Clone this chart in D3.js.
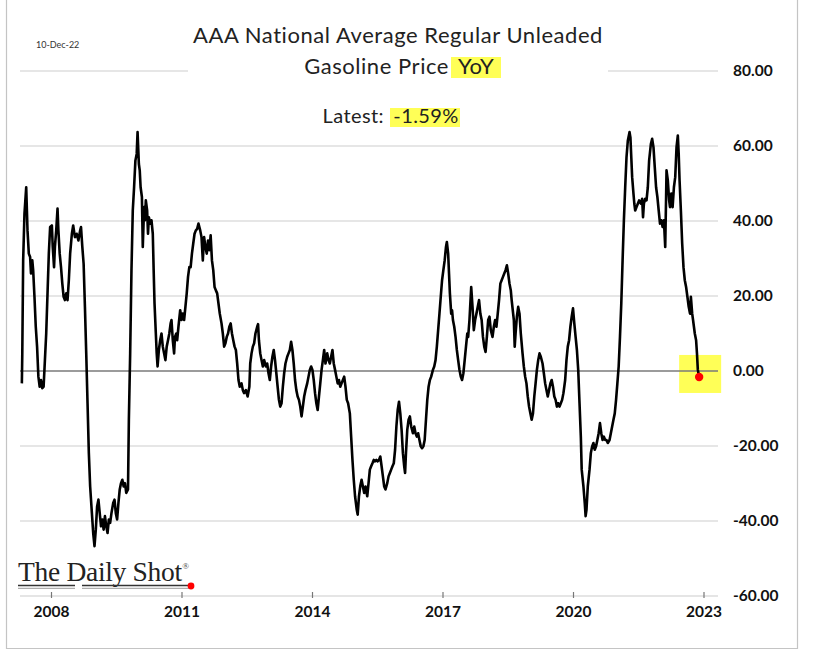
<!DOCTYPE html>
<html><head><meta charset="utf-8">
<script src="https://cdn.jsdelivr.net/npm/d3@7"></script>
<style>body{margin:0;background:#fff}svg{display:block}</style>
</head><body><svg id="c" width="817" height="671"></svg>
<script>
// ---- data (decimal year, YoY %) ----
const years = [
2007.33,2007.34,2007.36,2007.39,2007.43,2007.46,2007.49,2007.52,2007.54,2007.57,2007.59,2007.62,2007.65,2007.68,2007.71,2007.74,2007.77,2007.80,2007.83,2007.86,2007.89,2007.92,2007.95,2007.98,
2008.02,2008.04,2008.07,2008.09,2008.12,2008.15,2008.17,2008.20,2008.23,2008.26,2008.29,2008.32,2008.35,2008.38,2008.41,2008.44,2008.48,2008.51,2008.55,2008.59,2008.63,2008.67,2008.69,2008.72,2008.75,2008.78,2008.81,2008.84,2008.87,2008.90,2008.94,2008.97,
2009.00,2009.03,2009.06,2009.09,2009.12,2009.15,2009.18,2009.21,2009.24,2009.27,2009.30,2009.33,2009.36,2009.39,2009.43,2009.46,2009.49,2009.52,2009.55,2009.58,2009.61,2009.64,2009.67,2009.70,2009.73,2009.77,2009.79,2009.82,2009.85,2009.88,2009.91,2009.94,2009.97,2009.99,
2010.02,2010.04,2010.06,2010.09,2010.11,2010.14,2010.16,2010.18,2010.21,2010.23,2010.25,2010.28,2010.31,2010.34,2010.36,2010.38,2010.41,2010.43,2010.45,2010.48,2010.51,2010.54,2010.57,2010.60,2010.63,2010.66,2010.69,2010.72,2010.75,2010.77,2010.80,2010.83,2010.85,2010.88,2010.90,2010.93,2010.97,
2011.00,2011.03,2011.06,2011.09,2011.12,2011.15,2011.18,2011.21,2011.24,2011.27,2011.30,2011.33,2011.36,2011.39,2011.43,2011.46,2011.49,2011.52,2011.55,2011.58,2011.61,2011.64,2011.67,2011.70,2011.73,2011.76,2011.79,2011.82,2011.85,2011.88,2011.92,2011.95,2011.98,
2012.01,2012.04,2012.07,2012.10,2012.13,2012.16,2012.19,2012.22,2012.25,2012.28,2012.31,2012.34,2012.38,2012.41,2012.44,2012.48,2012.52,2012.56,2012.58,2012.61,2012.64,2012.67,2012.70,2012.74,2012.76,2012.78,2012.81,2012.84,2012.87,2012.90,2012.94,2012.97,
2013.00,2013.03,2013.06,2013.09,2013.12,2013.15,2013.18,2013.21,2013.24,2013.27,2013.30,2013.33,2013.36,2013.39,2013.43,2013.46,2013.49,2013.52,2013.55,2013.58,2013.61,2013.64,2013.67,2013.70,2013.73,2013.76,2013.79,2013.82,2013.85,2013.89,2013.92,2013.95,2013.98,
2014.01,2014.04,2014.07,2014.10,2014.13,2014.16,2014.19,2014.22,2014.25,2014.28,2014.31,2014.35,2014.38,2014.41,2014.44,2014.47,2014.50,2014.53,2014.56,2014.59,2014.62,2014.65,2014.68,2014.71,2014.74,2014.77,2014.80,2014.83,2014.87,2014.90,2014.93,2014.96,2014.99,
2015.03,2015.05,2015.08,2015.11,2015.14,2015.17,2015.20,2015.23,2015.27,2015.30,2015.33,2015.36,2015.39,2015.42,2015.45,2015.48,2015.51,2015.54,2015.57,2015.60,2015.63,2015.66,2015.69,2015.73,2015.76,2015.79,2015.82,2015.85,2015.88,2015.91,2015.94,2015.97,
2016.00,2016.03,2016.06,2016.09,2016.12,2016.14,2016.16,2016.19,2016.22,2016.25,2016.28,2016.32,2016.35,2016.38,2016.41,2016.44,2016.47,2016.50,2016.53,2016.56,2016.59,2016.62,2016.65,2016.68,2016.71,2016.74,2016.78,2016.81,2016.84,2016.87,2016.90,2016.93,2016.96,2016.99,
2017.02,2017.05,2017.08,2017.10,2017.13,2017.15,2017.17,2017.20,2017.22,2017.24,2017.27,2017.30,2017.33,2017.36,2017.39,2017.42,2017.45,2017.48,2017.51,2017.54,2017.57,2017.59,2017.62,2017.66,2017.69,2017.72,2017.75,2017.78,2017.81,2017.84,2017.87,2017.90,2017.93,2017.96,2017.99,
2018.02,2018.05,2018.08,2018.11,2018.15,2018.18,2018.21,2018.24,2018.27,2018.30,2018.33,2018.36,2018.39,2018.42,2018.45,2018.48,2018.51,2018.54,2018.57,2018.59,2018.64,2018.66,2018.68,2018.71,2018.74,2018.77,2018.80,2018.84,2018.87,2018.90,2018.93,2018.96,2018.99,
2019.02,2019.05,2019.08,2019.11,2019.14,2019.17,2019.20,2019.23,2019.26,2019.30,2019.33,2019.36,2019.39,2019.42,2019.45,2019.48,2019.51,2019.54,2019.57,2019.60,2019.63,2019.66,2019.69,2019.72,2019.75,2019.78,2019.82,2019.85,2019.88,2019.91,2019.94,2019.97,
2020.00,2020.03,2020.06,2020.09,2020.12,2020.15,2020.18,2020.20,2020.24,2020.27,2020.29,2020.31,2020.34,2020.38,2020.41,2020.44,2020.47,2020.50,2020.53,2020.56,2020.59,2020.62,2020.65,2020.68,2020.71,2020.74,2020.77,2020.80,2020.84,2020.87,2020.90,2020.93,2020.96,2020.99,
2021.02,2021.05,2021.08,2021.11,2021.14,2021.17,2021.20,2021.23,2021.26,2021.30,2021.32,2021.34,2021.36,2021.39,2021.41,2021.43,2021.46,2021.49,2021.52,2021.56,2021.59,2021.61,2021.63,2021.66,2021.69,2021.72,2021.75,2021.79,2021.82,2021.85,2021.88,2021.91,2021.94,2021.97,
2022.00,2022.03,2022.06,2022.09,2022.12,2022.14,2022.15,2022.18,2022.21,2022.23,2022.26,2022.29,2022.32,2022.35,2022.38,2022.41,2022.43,2022.45,2022.48,2022.51,2022.54,2022.57,2022.60,2022.63,2022.66,2022.69,2022.71,2022.74,2022.76,2022.78,2022.80,2022.83,2022.85,2022.87,2022.90
];
const yoy = [
-3.3,4.7,29.5,41.9,49.0,37.5,31.3,30.4,26.0,29.5,26.9,19.8,11.8,6.5,-1.5,-4.2,-2.4,-4.6,-4.2,2.9,10.0,20.7,31.3,38.4,
38.8,33.1,27.7,33.1,37.5,43.3,37.5,31.3,27.7,23.3,19.8,18.9,20.7,18.9,24.2,31.3,36.6,38.8,35.7,36.6,34.8,37.5,38.4,33.1,28.6,17.1,4.7,-8.6,-21.9,-30.8,-37.9,-43.2,
-46.7,-42.3,-36.1,-34.3,-37.9,-41.4,-39.6,-42.3,-38.7,-41.4,-43.2,-39.6,-40.5,-37.9,-35.2,-34.3,-37.9,-39.6,-35.2,-31.6,-29.9,-29.0,-30.8,-29.9,-32.5,-31.6,-13.0,4.7,26.9,42.8,49.0,56.1,57.9,63.7,
55.2,53.5,49.0,46.4,33.1,43.7,40.2,45.5,42.8,36.6,41.0,39.3,40.2,36.6,26.9,18.0,10.0,4.7,1.2,5.6,8.2,10.0,6.5,4.7,2.9,6.5,8.2,10.0,12.7,13.6,8.2,4.7,9.1,10.0,8.2,11.8,16.2,
13.6,15.3,13.6,17.1,20.7,25.1,27.7,27.7,31.3,34.0,36.6,37.5,37.9,39.3,37.5,35.7,29.5,35.7,33.1,31.3,34.8,32.2,36.2,29.5,26.9,22.4,21.5,20.7,18.0,15.3,12.7,10.0,6.5,
7.4,9.1,10.0,11.8,12.7,10.0,8.2,6.5,5.6,2.0,-2.4,-4.2,-3.3,-5.1,-5.9,-5.1,-6.8,-4.2,2.0,4.7,6.5,7.4,10.0,11.8,12.5,8.2,4.7,2.9,1.2,2.9,1.2,2.0,
-0.6,-2.4,1.2,3.8,5.6,2.9,-0.6,-4.2,-7.7,-9.5,-8.6,-4.2,-0.6,2.0,3.8,4.7,5.6,7.8,5.6,2.0,-2.4,-5.1,-6.8,-7.7,-9.5,-12.1,-9.5,-6.8,-5.1,-3.3,-1.5,0.3,1.2,
0.3,-2.4,-5.9,-8.6,-10.4,-6.8,-3.3,0.3,2.9,5.6,2.0,4.7,2.9,2.0,3.8,5.6,2.0,0.3,-1.5,-3.3,-2.4,-4.2,-3.3,-2.4,-1.5,-4.2,-7.7,-8.6,-11.3,-17.5,-23.7,-29.0,-33.4,
-37.1,-38.3,-33.4,-30.7,-29.0,-30.8,-32.5,-30.8,-33.4,-29.9,-26.3,-25.4,-24.6,-23.7,-24.1,-23.7,-24.1,-23.7,-22.8,-25.4,-28.1,-30.8,-31.6,-29.9,-28.1,-27.2,-26.3,-25.4,-24.6,-21.0,-14.8,-10.4,
-8.2,-11.3,-15.7,-21.9,-25.4,-27.2,-21.9,-15.7,-13.0,-12.1,-14.8,-16.6,-14.8,-16.6,-17.5,-16.6,-18.4,-20.1,-20.6,-20.1,-18.4,-13.0,-7.7,-4.2,-2.4,-1.5,0.3,1.2,2.9,6.5,10.9,15.3,19.8,24.2,
26.9,29.5,33.1,34.4,31.3,26.0,20.7,15.3,16.2,13.6,11.8,9.1,5.6,2.9,0.3,-1.5,-2.4,-0.6,2.9,6.5,10.0,9.1,13.6,22.4,17.1,10.9,13.6,15.3,17.1,18.9,15.3,13.6,9.1,6.5,5.1,
9.1,13.6,14.5,10.9,9.1,11.8,13.6,11.8,15.3,18.9,23.3,24.2,25.1,26.0,26.9,28.2,26.0,23.3,21.5,18.9,13.6,6.5,10.0,14.5,17.1,15.3,10.0,4.7,1.2,-1.5,-3.3,-6.8,-9.5,
-11.3,-13.0,-11.3,-6.8,-3.3,0.3,2.9,4.7,3.8,2.0,-0.6,-3.3,-5.1,-6.8,-5.1,-3.3,-2.4,-4.2,-6.8,-7.7,-9.5,-8.6,-9.5,-8.6,-7.7,-5.9,-2.4,2.9,6.5,8.2,11.8,14.5,
16.7,12.7,9.1,5.6,0.3,-8.6,-17.5,-26.3,-30.8,-35.2,-38.7,-37.0,-30.8,-26.3,-21.9,-20.1,-19.2,-21.0,-20.1,-18.4,-16.6,-13.9,-16.6,-18.4,-17.5,-18.4,-18.4,-19.2,-18.4,-16.6,-14.8,-13.0,-11.3,-7.7,
-3.3,1.2,9.1,18.0,29.5,40.2,49.0,57.0,61.4,63.7,62.3,57.0,51.7,47.3,44.6,42.8,43.7,44.6,45.5,44.6,45.9,41.0,44.6,45.9,45.5,49.0,56.1,60.5,61.9,59.7,54.3,49.0,46.4,42.8,
39.3,40.2,38.4,40.2,33.1,46.4,53.5,50.8,45.5,43.7,47.3,43.7,49.0,51.7,59.7,62.8,57.9,50.8,42.8,34.0,27.7,24.2,22.4,19.8,17.1,15.3,19.8,15.3,13.6,11.8,10.0,8.2,4.7,0.3,-1.59
];
const xTickYears = [2008, 2011, 2014, 2017, 2020, 2023];
const yTickValues = [80, 60, 40, 20, 0, -20, -40, -60];
const titleLine1 = "AAA National Average Regular Unleaded";
const titleLine2 = "Gasoline Price";
const titleHighlight = "YoY";
const latestLabel = "Latest:";
const latestValue = "-1.59%";
const dateStamp = "10-Dec-22";
const brand = "The Daily Shot";

// ---- layout ----
const svg = d3.select("#c");
const plotL = 20, plotR = 718;
const x = d3.scaleLinear().domain([2008, 2023]).range([51, 703.5]);
const y = d3.scaleLinear().domain([-60, 80]).range([596, 71]);
const SANS = "Lato, 'Open Sans', 'Liberation Sans', sans-serif";
const YEL = "#ffff57";

// outer frame
svg.append("path").attr("d", "M6.5,0 V648.5 H797.5 V0")
  .attr("fill", "none").attr("stroke", "#c4c4c4").attr("stroke-width", 1.2);

// highlight box around latest point
const lastI = yoy.length - 1;
const lx = x(years[lastI]), ly = y(yoy[lastI]);
svg.append("rect").attr("x", lx - 20).attr("y", ly - 22).attr("width", 42).attr("height", 38).attr("fill", YEL);

// gridlines
svg.append("g").selectAll("line")
  .data(yTickValues.filter(v => v !== 0 && v !== -60))
  .join("line")
  .attr("x1", plotL).attr("x2", plotR)
  .attr("y1", d => y(d)).attr("y2", d => y(d))
  .attr("stroke", "#dedede").attr("stroke-width", 1.3);

// bottom axis line
svg.append("line").attr("x1", plotL).attr("x2", plotR).attr("y1", y(-60)).attr("y2", y(-60))
  .attr("stroke", "#dcdcdc").attr("stroke-width", 1.3);

// zero line
svg.append("line").attr("x1", plotL).attr("x2", plotR).attr("y1", y(0)).attr("y2", y(0))
  .attr("stroke", "#7a7a7a").attr("stroke-width", 1.5);

// title block (white backing interrupts the top gridline)
svg.append("rect").attr("x", 188).attr("y", 14).attr("width", 420).attr("height", 80).attr("fill", "#fff");
svg.append("text").attr("x", 398).attr("y", 43).attr("text-anchor", "middle")
  .attr("font-family", SANS).attr("font-size", 22).attr("letter-spacing", 0.55).attr("fill", "#222").text(titleLine1);
svg.append("rect").attr("x", 451).attr("y", 57).attr("width", 50).attr("height", 21).attr("fill", YEL);
svg.append("text").attr("x", 449).attr("y", 74).attr("text-anchor", "end")
  .attr("font-family", SANS).attr("font-size", 22).attr("letter-spacing", 0.55).attr("fill", "#222").text(titleLine2);
svg.append("text").attr("x", 476).attr("y", 74).attr("text-anchor", "middle")
  .attr("font-family", SANS).attr("font-size", 22).attr("letter-spacing", 0.3).attr("fill", "#222").text(titleHighlight);

// latest
svg.append("rect").attr("x", 390).attr("y", 108).attr("width", 70).attr("height", 19).attr("fill", YEL);
svg.append("text").attr("x", 384).attr("y", 123).attr("text-anchor", "end")
  .attr("font-family", SANS).attr("font-size", 20).attr("letter-spacing", 0.4).attr("fill", "#222").text(latestLabel);
svg.append("text").attr("x", 426).attr("y", 123).attr("text-anchor", "middle")
  .attr("font-family", SANS).attr("font-size", 20).attr("letter-spacing", 0.4).attr("fill", "#222").text(latestValue);

// date stamp
svg.append("text").attr("x", 36).attr("y", 48)
  .attr("font-family", SANS).attr("font-size", 9).attr("fill", "#333").text(dateStamp);

// y axis (right)
const yAxis = svg.append("g").attr("transform", "translate(733,0)")
  .call(d3.axisRight(y).tickValues(yTickValues).tickFormat(d => d.toFixed(2)).tickSize(0).tickPadding(0));
yAxis.select(".domain").remove();
yAxis.selectAll("text").attr("font-family", SANS).attr("font-size", 15.5).attr("font-weight", 700).attr("fill", "#111");

// x axis
const xAxis = svg.append("g").attr("transform", "translate(0,592)")
  .call(d3.axisBottom(x).tickValues(xTickYears).tickFormat(d3.format("d")).tickSize(6).tickPadding(8));
xAxis.select(".domain").remove();
xAxis.selectAll(".tick line").attr("stroke", "#777").attr("stroke-width", 1.2);
xAxis.selectAll("text").attr("font-family", SANS).attr("font-size", 15.5).attr("font-weight", 700).attr("fill", "#111");

// series line
const line = d3.line().x((d, i) => x(years[i])).y(d => y(d));
svg.append("path").datum(yoy).attr("d", line)
  .attr("fill", "none").attr("stroke", "#000").attr("stroke-width", 2.6).attr("stroke-linejoin", "round");

// latest dot
svg.append("circle").attr("cx", lx).attr("cy", ly).attr("r", 4.2).attr("fill", "#ff0000");

// logo
const logo = svg.append("g");
const brandText = logo.append("text").attr("x", 18).attr("y", 581)
  .attr("font-family", "'Liberation Serif', 'DejaVu Serif', serif").attr("font-size", 27.5)
  .attr("letter-spacing", -0.3).attr("fill", "#222").text(brand);
const bw = brandText.node().getComputedTextLength();
logo.append("text").attr("x", 18 + bw + 0.5).attr("y", 569)
  .attr("font-family", "'Liberation Serif', serif").attr("font-size", 9).attr("fill", "#444").text("®");
logo.append("path").attr("d", "M18,585.5 H75 M82,585.5 H189")
  .attr("stroke", "#333").attr("stroke-width", 1.6);
logo.append("path").attr("d", "M18,588.3 H75 M82,588.3 H189")
  .attr("stroke", "#999").attr("stroke-width", 1);
logo.append("circle").attr("cx", 191).attr("cy", 586).attr("r", 3.4).attr("fill", "#ff0000");
</script></body></html>
